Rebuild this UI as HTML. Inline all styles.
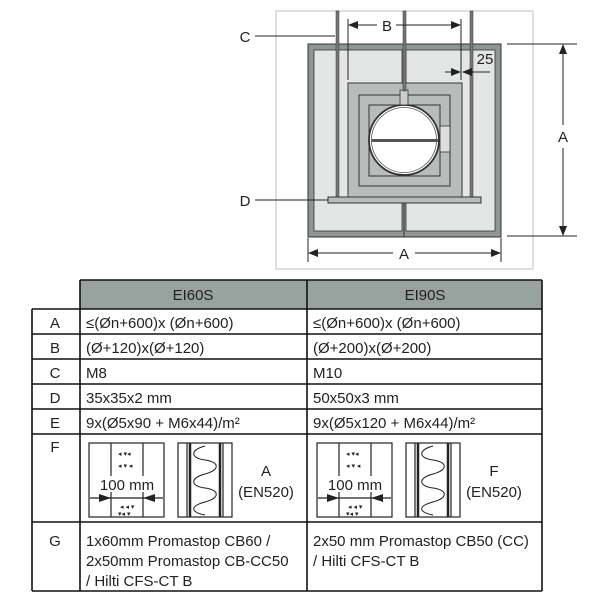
<!DOCTYPE html>
<html><head><meta charset="utf-8"><style>
body{margin:0;background:#fff;width:600px;height:600px;overflow:hidden;font-family:"Liberation Sans",sans-serif}
svg{position:absolute;left:0;top:0}
</style></head><body>
<svg width="600" height="600" viewBox="0 0 600 600" font-family="Liberation Sans, sans-serif" fill="none">
<defs><marker id="ar" markerWidth="10" markerHeight="8" refX="9" refY="4" orient="auto" markerUnits="userSpaceOnUse"><path d="M0,0 L10,4 L0,8z" fill="#222"/></marker></defs>
<rect x="276" y="11" width="257" height="258" fill="#fff" stroke="#c8cccb" stroke-width="1.2"/>
<rect x="308" y="44" width="193" height="193" fill="#8f9694" stroke="#333" stroke-width="1"/>
<rect x="314" y="50" width="88" height="181" fill="#e4e6e5" stroke="#333" stroke-width="0.8"/>
<rect x="406" y="50" width="89" height="181" fill="#e4e6e5" stroke="#333" stroke-width="0.8"/>
<line x1="404" y1="44" x2="404" y2="237" stroke="#333" stroke-width="1"/>
<rect x="348" y="83" width="114" height="114" fill="#b8bdbb" stroke="#333" stroke-width="1"/>
<rect x="359" y="95" width="91" height="91" fill="#b8bdbb" stroke="#333" stroke-width="1"/>
<rect x="369" y="105" width="71" height="71" fill="#b8bdbb" stroke="#333" stroke-width="1"/>
<circle cx="404" cy="140" r="35" fill="#fff" stroke="#333" stroke-width="1.8"/>
<circle cx="404" cy="140" r="32.5" stroke="#555" stroke-width="0.8"/>
<rect x="372" y="139" width="66" height="3" fill="#555"/>
<rect x="440" y="126" width="10" height="26" fill="#ddd" stroke="#333" stroke-width="0.8"/>
<rect x="400" y="90" width="8" height="15" fill="#ccc" stroke="#333" stroke-width="0.8"/>
<rect x="336" y="11" width="3" height="186" fill="#777" stroke="#333" stroke-width="0.5"/>
<rect x="403" y="11" width="3" height="80" fill="#777" stroke="#333" stroke-width="0.5"/>
<rect x="470" y="11" width="3" height="186" fill="#777" stroke="#333" stroke-width="0.5"/>
<rect x="328" y="197" width="153" height="6" fill="#b8bdbb" stroke="#333" stroke-width="1"/>
<g stroke="#222" stroke-width="1">
<line x1="348" y1="19" x2="348" y2="80"/><line x1="461" y1="19" x2="461" y2="80"/>
<line x1="377" y1="25" x2="349" y2="25" marker-end="url(#ar)"/><line x1="396" y1="25" x2="460" y2="25" marker-end="url(#ar)"/>
<line x1="445" y1="72" x2="460" y2="72" marker-end="url(#ar)"/><line x1="490" y1="72" x2="463" y2="72" marker-end="url(#ar)"/>
<line x1="255" y1="36" x2="335" y2="36"/><line x1="255" y1="200" x2="328" y2="200"/>
<line x1="507" y1="44" x2="577" y2="44"/><line x1="507" y1="236" x2="577" y2="236"/>
<line x1="563" y1="125" x2="563" y2="45" marker-end="url(#ar)"/><line x1="563" y1="148" x2="563" y2="235" marker-end="url(#ar)"/>
<line x1="308" y1="238" x2="308" y2="262"/><line x1="501" y1="238" x2="501" y2="262"/>
<line x1="393" y1="253" x2="309" y2="253" marker-end="url(#ar)"/><line x1="415" y1="253" x2="500" y2="253" marker-end="url(#ar)"/>
</g>
<g fill="#222" font-size="15" text-anchor="middle">
<text x="387" y="31">B</text><text x="485" y="64">25</text><text x="245" y="42">C</text><text x="245" y="206">D</text>
<text x="563" y="142">A</text><text x="404" y="259">A</text>
</g>
<rect x="80" y="280" width="462" height="29" fill="#98a29f"/>
<g stroke="#111" stroke-width="1.6">
<line x1="80" y1="280" x2="542" y2="280"/>
<line x1="32" y1="309" x2="542" y2="309"/>
<line x1="32" y1="334" x2="542" y2="334"/><line x1="32" y1="359" x2="542" y2="359"/>
<line x1="32" y1="384" x2="542" y2="384"/><line x1="32" y1="409" x2="542" y2="409"/>
<line x1="32" y1="434" x2="542" y2="434"/><line x1="32" y1="522" x2="542" y2="522"/>
<line x1="32" y1="591" x2="542" y2="591"/>
<line x1="32" y1="309" x2="32" y2="591"/><line x1="80" y1="280" x2="80" y2="591"/>
<line x1="307" y1="280" x2="307" y2="591"/><line x1="542" y1="280" x2="542" y2="591"/>
</g>
<g fill="#222" font-size="15">
<text x="193" y="300" text-anchor="middle">EI60S</text><text x="425" y="300" text-anchor="middle">EI90S</text>
<g text-anchor="middle"><text x="55" y="328">A</text><text x="55" y="353">B</text><text x="55" y="378">C</text><text x="55" y="403">D</text><text x="55" y="428">E</text><text x="55" y="452">F</text><text x="55" y="546">G</text></g>
<text x="86" y="328">≤(Øn+600)x (Øn+600)</text><text x="313" y="328">≤(Øn+600)x (Øn+600)</text>
<text x="86" y="353">(Ø+120)x(Ø+120)</text><text x="313" y="353">(Ø+200)x(Ø+200)</text>
<text x="86" y="378">M8</text><text x="313" y="378">M10</text>
<text x="86" y="403">35x35x2 mm</text><text x="313" y="403">50x50x3 mm</text>
<text x="86" y="428">9x(Ø5x90 + M6x44)/m²</text><text x="313" y="428">9x(Ø5x120 + M6x44)/m²</text>
<text x="86" y="546">1x60mm Promastop CB60 /</text><text x="86" y="566">2x50mm Promastop CB-CC50</text><text x="86" y="586">/ Hilti CFS-CT B</text>
<text x="313" y="546">2x50 mm Promastop CB50 (CC)</text><text x="313" y="566">/ Hilti CFS-CT B</text>
<text x="266" y="476" text-anchor="middle">A</text><text x="266" y="497" text-anchor="middle">(EN520)</text>
<text x="494" y="476" text-anchor="middle">F</text><text x="494" y="497" text-anchor="middle">(EN520)</text>
</g>
<g stroke="#222" stroke-width="1.2">
<rect x="89" y="443" width="75" height="74"/><line x1="111" y1="443" x2="111" y2="517"/><line x1="143" y1="443" x2="143" y2="517"/>
<line x1="90" y1="498" x2="163" y2="498"/>
<rect x="178" y="443" width="54" height="74"/>
<line x1="187" y1="443" x2="187" y2="517"/><line x1="190" y1="443" x2="190" y2="517" stroke-width="2.5"/>
<line x1="220" y1="443" x2="220" y2="517" stroke-width="2.5"/><line x1="223" y1="443" x2="223" y2="517"/>
<path d="M205,446 C190,450 190,458 205,460 C220,462 220,470 205,474 C190,478 190,486 205,488 C220,490 220,498 205,502 C190,506 190,512 205,515" stroke-width="1"/>
</g>
<rect x="95" y="476" width="64" height="16" fill="#fff"/>
<g fill="#222">
<path d="M99,494 L111,498 L99,502z"/><path d="M155,494 L143,498 L155,502z"/>
<text x="127" y="490" font-size="15" text-anchor="middle">100 mm</text>
<g font-size="7"><text x="118" y="456">◂ ▾◂</text><text x="118" y="468">◂ ▾ ◂</text><text x="120" y="509">◂ ◂ ▾</text><text x="118" y="516">▾◂ ▾</text></g>
</g>
<g transform="translate(228,0)">
<g stroke="#222" stroke-width="1.2">
<rect x="89" y="443" width="75" height="74"/><line x1="111" y1="443" x2="111" y2="517"/><line x1="143" y1="443" x2="143" y2="517"/>
<line x1="90" y1="498" x2="163" y2="498"/>
<rect x="178" y="443" width="54" height="74"/>
<line x1="187" y1="443" x2="187" y2="517"/><line x1="190" y1="443" x2="190" y2="517" stroke-width="2.5"/>
<line x1="220" y1="443" x2="220" y2="517" stroke-width="2.5"/><line x1="223" y1="443" x2="223" y2="517"/>
<path d="M205,446 C190,450 190,458 205,460 C220,462 220,470 205,474 C190,478 190,486 205,488 C220,490 220,498 205,502 C190,506 190,512 205,515" stroke-width="1"/>
</g>
<rect x="95" y="476" width="64" height="16" fill="#fff"/>
<g fill="#222">
<path d="M99,494 L111,498 L99,502z"/><path d="M155,494 L143,498 L155,502z"/>
<text x="127" y="490" font-size="15" text-anchor="middle">100 mm</text>
<g font-size="7"><text x="118" y="456">◂ ▾◂</text><text x="118" y="468">◂ ▾ ◂</text><text x="120" y="509">◂ ◂ ▾</text><text x="118" y="516">▾◂ ▾</text></g>
</g>
</g>
</svg>
</body></html>
